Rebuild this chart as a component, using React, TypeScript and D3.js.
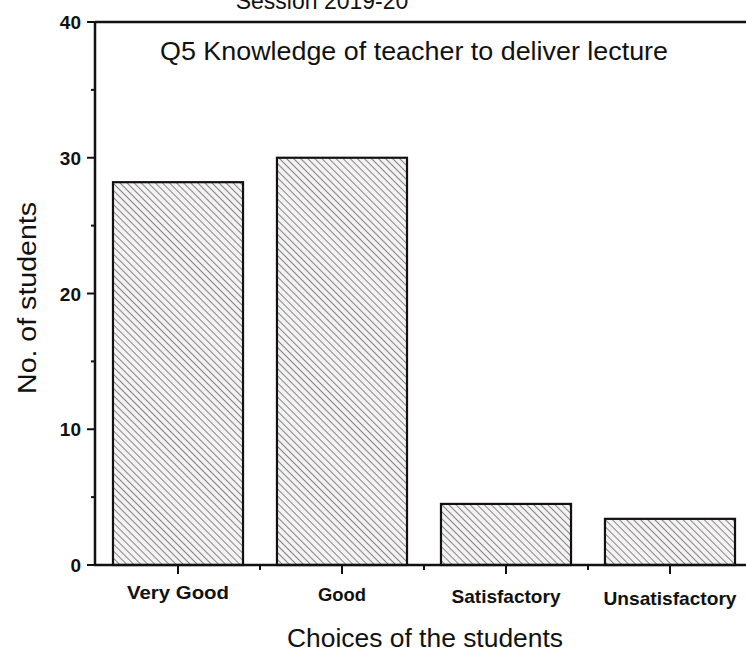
import React from "react";
import * as d3 from "d3";

const categories = ["Very Good", "Good", "Satisfactory", "Unsatisfactory"];
const values = [28.2, 30, 4.5, 3.4];
const yTicks = [0, 10, 20, 30, 40];
const yMinorTicks = [5, 15, 25, 35];
const titleText = "Q5 Knowledge of teacher to deliver lecture";
const sessionText = "Session 2019-20";
const xTitle = "Choices of the students";
const yTitle = "No. of students";

export default function App() {
  const W = 746, H = 657;
  const left = 95, top = 22, bottom = 565;
  const y = d3.scaleLinear().domain([0, 40]).range([bottom, top]);
  const x = d3.scaleBand<string>().domain(categories).range([96, 752]).paddingInner(0.207).paddingOuter(0.1035);
  const step = x.step();
  const font = "'Liberation Sans', Arial, sans-serif";
  const labelWidths = [102, 48, 109, 133];
  return (
    <svg width={W} height={H} style={{ position: "absolute", left: 0, top: 0, background: "#fff" }}>
      <defs>
        <pattern id="hatch" patternUnits="userSpaceOnUse" width={5} height={5} patternTransform="rotate(-45)">
          <rect width={5} height={5} fill="#f4f2f2" />
          <line x1={0} y1={0} x2={0} y2={5} stroke="#6a6666" strokeWidth={1.6} />
        </pattern>
      </defs>
      <rect width={W} height={H} fill="#fff" />
      <text x={322} y={9} textAnchor="middle" fontFamily={font} fontSize={23} fill="#111">{sessionText}</text>
      <text x={414} y={60} textAnchor="middle" fontFamily={font} fontSize={25} fill="#111"
        textLength={508} lengthAdjust="spacingAndGlyphs">{titleText}</text>
      {categories.map((c, i) => (
        <rect key={c} x={x(c)} y={y(values[i])} width={x.bandwidth()} height={bottom - y(values[i])}
          fill="url(#hatch)" stroke="#111" strokeWidth={2.2} />
      ))}
      <line x1={left} y1={top} x2={left} y2={bottom + 1} stroke="#111" strokeWidth={2.5} />
      <line x1={left} y1={top} x2={W} y2={top} stroke="#111" strokeWidth={2.5} />
      <line x1={left - 1} y1={bottom} x2={W} y2={bottom} stroke="#111" strokeWidth={2.5} />
      {yTicks.map(t => (
        <g key={t}>
          <line x1={left - 8} x2={left} y1={y(t)} y2={y(t)} stroke="#111" strokeWidth={2} />
          <text x={left - 14} y={y(t) + 7} textAnchor="end" fontFamily={font} fontWeight="bold" fontSize={19} fill="#111">{t}</text>
        </g>
      ))}
      {yMinorTicks.map(t => (
        <line key={t} x1={left - 4} x2={left} y1={y(t)} y2={y(t)} stroke="#111" strokeWidth={2} />
      ))}
      {categories.map((c, i) => {
        const cx = (x(c) as number) + x.bandwidth() / 2;
        return (
          <g key={c}>
            <line x1={cx} x2={cx} y1={bottom} y2={bottom + 9} stroke="#111" strokeWidth={2} />
            {i < categories.length - 1 && (
              <line x1={cx + step / 2} x2={cx + step / 2} y1={bottom} y2={bottom + 5} stroke="#111" strokeWidth={2} />
            )}
            <text x={cx} y={bottom + 34 + i * 2} textAnchor="middle" fontFamily={font} fontWeight="bold" fontSize={19}
              fill="#111" textLength={labelWidths[i]} lengthAdjust="spacingAndGlyphs">{c}</text>
          </g>
        );
      })}
      <text x={425} y={647} textAnchor="middle" fontFamily={font} fontSize={25} fill="#111"
        textLength={276} lengthAdjust="spacingAndGlyphs">{xTitle}</text>
      <text transform={`translate(36,298) rotate(-90)`} textAnchor="middle" fontFamily={font} fontSize={25} fill="#111"
        textLength={192} lengthAdjust="spacingAndGlyphs">{yTitle}</text>
    </svg>
  );
}
